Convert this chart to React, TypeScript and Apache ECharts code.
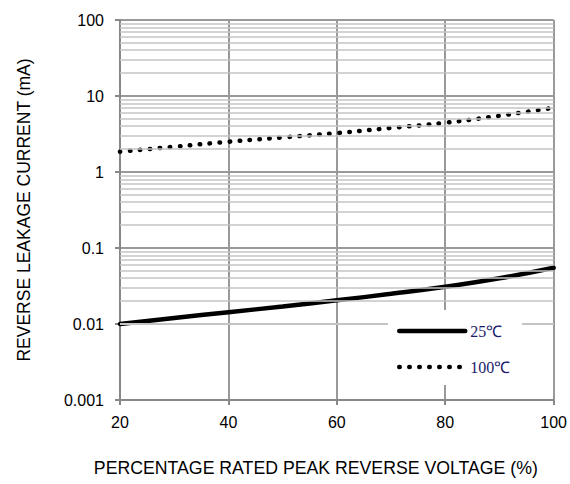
import { useEffect, useRef } from 'react';
import * as echarts from 'echarts';

const xValues = [20, 30, 40, 50, 60, 70, 80, 90, 100];
const current25 = [0.01, 0.012, 0.0143, 0.017, 0.0205, 0.025, 0.031, 0.04, 0.055];
const current100 = [1.85, 2.15, 2.5, 2.85, 3.25, 3.8, 4.45, 5.5, 7.0];
const seriesNames = ['25℃', '100℃'];
const decades = [0.001, 0.01, 0.1, 1, 10];
const minorMultipliers = [2, 3, 4, 5, 6, 7, 8, 9];

export default function App() {
  const ref = useRef<HTMLDivElement>(null);
  useEffect(() => {
    document.body.style.margin = '0';
    if (!ref.current) return;
    const chart = echarts.init(ref.current, null, { renderer: 'svg' });
    const minorValues: number[] = [];
    decades.forEach((d) => minorMultipliers.forEach((m) => minorValues.push(Number((d * m).toPrecision(2)))));
    const font = 'Liberation Sans, Arial, sans-serif';
    const solidStyle = { color: '#000', width: 4.5, cap: 'round', type: 'solid' };
    const dotStyle = { color: '#000', width: 4.5, type: [0.5, 9.5], cap: 'round' };
    chart.setOption({
      animation: false,
      grid: { left: 120, right: 15, top: 20, bottom: 84 },
      graphic: [
        {
          type: 'rect',
          z: 50,
          shape: { x: 388, y: 310, width: 134, height: 75 },
          style: { fill: '#ffffff' },
          silent: true,
        },
      ],
      legend: {
        z: 60,
        data: [
          { name: seriesNames[0], lineStyle: solidStyle, itemStyle: { opacity: 0 } },
          { name: seriesNames[1], lineStyle: dotStyle, itemStyle: { opacity: 0 } },
        ],
        orient: 'vertical',
        left: 388,
        top: 310,
        padding: [13, 12, 14, 9],
        itemGap: 20,
        itemWidth: 66,
        itemHeight: 14,
        itemStyle: { opacity: 0 },
        textStyle: { fontFamily: 'Liberation Serif, serif', fontSize: 16, color: '#1c1c6b' },
      },
      xAxis: {
        type: 'value',
        min: 20,
        max: 100,
        interval: 20,
        name: 'PERCENTAGE RATED PEAK REVERSE VOLTAGE (%)',
        nameLocation: 'middle',
        nameGap: 59,
        nameTextStyle: { fontFamily: font, fontSize: 17.7, color: '#000', padding: [0, 42, 0, 0] },
        axisLine: { lineStyle: { color: '#888', width: 2 } },
        axisTick: { show: true, length: 5, lineStyle: { color: '#888', width: 2 } },
        axisLabel: { fontFamily: font, fontSize: 16, color: '#000', margin: 14 },
        splitLine: { show: true, lineStyle: { color: '#999', width: 2 } },
      },
      yAxis: {
        type: 'log',
        logBase: 10,
        min: 0.001,
        max: 100,
        name: 'REVERSE LEAKAGE CURRENT (mA)',
        nameLocation: 'middle',
        nameGap: 87,
        nameTextStyle: { fontFamily: font, fontSize: 17.5, color: '#000' },
        axisLine: { show: true, lineStyle: { color: '#888', width: 2 } },
        axisTick: { show: true, length: 5, lineStyle: { color: '#888', width: 2 } },
        axisLabel: {
          fontFamily: font,
          fontSize: 16,
          color: '#000',
          margin: 16,
          formatter: (v: number) => String(Number(v.toPrecision(1))),
        },
        splitLine: { show: true, lineStyle: { color: '#999', width: 2 } },
      },
      series: [
        {
          name: 'minor',
          type: 'line',
          data: [],
          silent: true,
          z: 1,
          markLine: {
            silent: true,
            symbol: 'none',
            label: { show: false },
            lineStyle: { color: '#c4c4c4', width: 1.6, type: 'solid' },
            data: minorValues.map((v) => ({ yAxis: v })),
          },
        },
        {
          name: seriesNames[0],
          type: 'line',
          smooth: true,
          symbol: 'none',
          z: 3,
          data: xValues.map((x, i) => [x, current25[i]]),
          lineStyle: solidStyle,
          itemStyle: { color: '#000' },
        },
        {
          name: seriesNames[1],
          type: 'line',
          smooth: true,
          symbol: 'none',
          z: 3,
          data: xValues.map((x, i) => [x, current100[i]]),
          lineStyle: dotStyle,
          itemStyle: { color: '#000' },
        },
      ],
    });
    return () => chart.dispose();
  }, []);
  return <div ref={ref} style={{ width: 570, height: 484 }} />;
}
